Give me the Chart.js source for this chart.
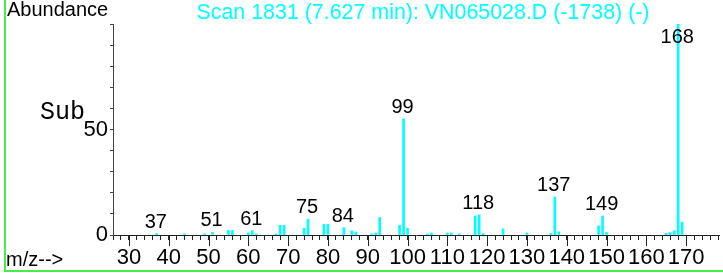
<!DOCTYPE html>
<html>
<head>
<meta charset="utf-8">
<script src="https://cdn.jsdelivr.net/npm/chart.js@4"></script>
<style>
  html, body { margin: 0; padding: 0; background: #fff; }
  #wrap { width: 723px; height: 273px; position: relative; }
</style>
</head>
<body>
<div id="wrap"><canvas id="spec" width="723" height="273"></canvas></div>
<script>
// m/z values and their abundance
const mzValues = [37, 44, 49, 51, 55, 56, 60, 61, 62, 67, 68, 69, 74, 75, 79, 80, 84, 86, 87,
  91, 92, 93, 98, 99, 100, 105, 106, 110, 111, 113, 117, 118, 119, 124, 130, 136, 137, 138,
  148, 149, 150, 165, 166, 167, 168, 169];
const abundance = [0.7, 0.5, 0.5, 1.2, 2.2, 2.2, 1, 2, 0.5, 0.5, 4.6, 4.6, 3.2, 7.5, 5, 5, 3.5, 2, 1.4,
  0.5, 1, 8.3, 4.6, 55, 3.2, 0.5, 1, 1, 1, 0.5, 9, 9.5, 0.7, 2.9, 1, 0.7, 18, 1.5,
  4.3, 9, 1.2, 0.8, 1.2, 2, 100, 6];
const peakLabels = [37, 51, 61, 75, 84, 99, 118, 137, 149, 168];
const xTickLabels = [30, 40, 50, 60, 70, 80, 90, 100, 110, 120, 130, 140, 150, 160, 170];
const yTickLabels = [0, 50];
const titleText = "Scan 1831 (7.627 min): VN065028.D (-1738) (-)";

const FONT = "'Liberation Sans', Arial, sans-serif";

const decor = {
  id: "decor",
  beforeDraw(chart) {
    const ctx = chart.ctx;
    ctx.save();
    ctx.fillStyle = "#fff";
    ctx.fillRect(0, 0, chart.width, chart.height);
    // green frame on left and bottom
    ctx.strokeStyle = "#44ee44";
    ctx.lineWidth = 2;
    ctx.beginPath();
    ctx.moveTo(5, 0);
    ctx.lineTo(5, 271);
    ctx.lineTo(chart.width, 271);
    ctx.stroke();
    ctx.restore();
  },
  afterDraw(chart) {
    const ctx = chart.ctx;
    const xs = chart.scales.x;
    const ys = chart.scales.y;
    const area = chart.chartArea;
    ctx.save();

    // longer ticks at the labelled m/z values
    ctx.strokeStyle = "#222";
    ctx.lineWidth = 1;
    xTickLabels.forEach(v => {
      const px = Math.round(xs.getPixelForValue(v)) + 0.5;
      ctx.beginPath();
      ctx.moveTo(px, area.bottom);
      ctx.lineTo(px, area.bottom + 11);
      ctx.stroke();
    });

    // peak labels
    ctx.fillStyle = "#000";
    ctx.font = "20px " + FONT;
    ctx.textAlign = "center";
    ctx.textBaseline = "alphabetic";
    peakLabels.forEach(m => {
      const a = abundance[mzValues.indexOf(m)];
      const px = xs.getPixelForValue(m);
      const py = Math.max(ys.getPixelForValue(a) - 6, 43);
      ctx.fillText(String(m), px - 1, py);
    });

    // texts
    ctx.textAlign = "left";
    ctx.textBaseline = "top";
    ctx.font = "20px " + FONT;
    ctx.fillText("Abundance", 7, 0);
    ctx.fillText("m/z-->", 6, 250);

    ctx.fillStyle = "#00ffff";
    ctx.font = "21.4px " + FONT;
    ctx.textAlign = "center";
    ctx.fillText(titleText, 423, 2);

    ctx.fillStyle = "#000";
    ctx.font = "25px 'Liberation Mono', 'Courier New', monospace";
    ctx.textAlign = "left";
    ctx.textBaseline = "alphabetic";
    ctx.fillText("Sub", 40, 119);
    ctx.restore();
  }
};

new Chart(document.getElementById("spec"), {
  type: "bar",
  data: {
    datasets: [{
      data: mzValues.map((m, i) => ({ x: m, y: abundance[i] })),
      backgroundColor: "#00ffff",
      barThickness: 2,
      grouped: false
    }]
  },
  options: {
    responsive: false,
    animation: false,
    layout: { padding: { top: 24, left: 0, right: 0, bottom: 0 } },
    plugins: { legend: { display: false }, tooltip: { enabled: false }, title: { display: false } },
    scales: {
      x: {
        type: "linear",
        min: 26,
        max: 178.5,
        offset: false,
        afterBuildTicks(scale) {
          const t = [];
          for (let v = 26; v <= 178; v += 2) t.push({ value: v });
          scale.ticks = t;
        },
        afterFit(scale) { scale.height = 38; },
        grid: { display: true, drawOnChartArea: false, tickLength: 5, color: "#222", offset: false },
        border: { color: "#222", width: 1 },
        ticks: {
          autoSkip: false,
          maxRotation: 0,
          padding: 5,
          color: "#000",
          font: { family: FONT, size: 22 },
          callback: v => xTickLabels.includes(v) ? String(v) : ""
        }
      },
      y: {
        min: 0,
        max: 100,
        afterBuildTicks(scale) {
          const t = [];
          for (let v = 0; v <= 100; v += 10) t.push({ value: v });
          scale.ticks = t;
        },
        afterFit(scale) { scale.width = 113; },
        grid: { display: true, drawOnChartArea: false, tickLength: 3, color: "#444" },
        border: { color: "#444", width: 1 },
        ticks: {
          autoSkip: false,
          padding: 2,
          color: "#000",
          font: { family: FONT, size: 22 },
          callback: v => yTickLabels.includes(v) ? String(v) : ""
        }
      }
    }
  },
  plugins: [decor]
});
</script>
</body>
</html>
